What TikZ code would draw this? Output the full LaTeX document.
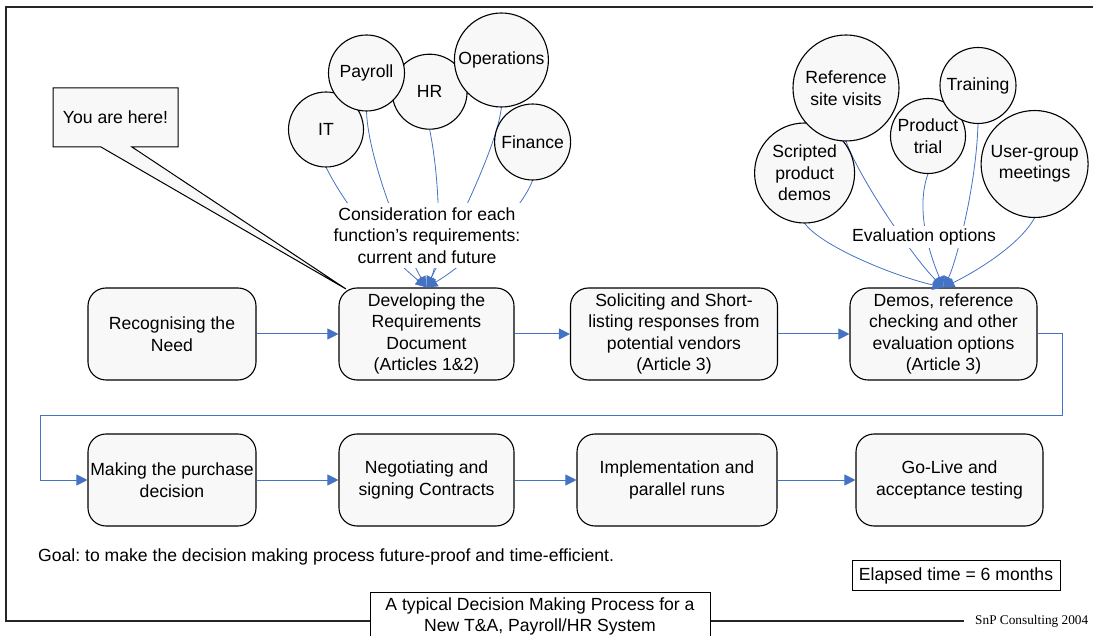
\documentclass[tikz,border=0pt]{standalone}
\usepackage{fontspec}
\setmainfont{Liberation Sans}
\newfontfamily\snpfont{Liberation Serif}
\usetikzlibrary{arrows.meta}
\definecolor{flowblue}{RGB}{68,114,196}
\definecolor{shapefill}{RGB}{248,248,248}
\frenchspacing
\begin{document}
\begin{tikzpicture}[x=1pt,y=-1pt,
  every node/.style={font=\fontsize{17.6}{21.5}\selectfont, inner sep=0pt, align=center},
  stepbox/.style={draw=black, line width=1.1pt, fill=shapefill, rounded corners=18pt, minimum height=92pt},
  bubble/.style={draw=black, line width=1.1pt, fill=shapefill, circle},
  flow/.style={draw=flowblue, line width=1pt, -{Triangle[length=11pt,width=11pt]}},
  feed/.style={draw=flowblue, line width=0.8pt, -{Triangle[length=11pt,width=10pt]}},
  frameline/.style={draw=black!85, line width=1.4pt},
  plainbox/.style={draw=black, line width=0.9pt, fill=white}
]
\useasboundingbox (0,0) rectangle (1093,636);
\clip (0,0) rectangle (1093,636);

% frame
\draw[frameline] (1093,7) -- (6,7) -- (6,621) -- (370,621);
\draw[frameline] (710,621) -- (964,621);

% process boxes
\node[stepbox, minimum width=168pt] (b1) at (172,334) {Recognising the\\Need};
\node[stepbox, minimum width=175pt] (b2) at (426.5,334) {Developing the\\Requirements\\Document\\(Articles 1\&2)};
\node[stepbox, minimum width=207pt] (b3) at (674,334) {Soliciting and Short-\\listing responses from\\potential vendors\\(Article 3)};
\node[stepbox, minimum width=187pt] (b4) at (943.5,334) {Demos, reference\\checking and other\\evaluation options\\(Article 3)};
\node[stepbox, minimum width=168pt] (b5) at (172,480) {Making the purchase\\decision};
\node[stepbox, minimum width=175pt] (b6) at (426.5,480) {Negotiating and\\signing Contracts};
\node[stepbox, minimum width=200pt] (b7) at (677,480) {Implementation and\\parallel runs};
\node[stepbox, minimum width=187pt] (b8) at (949.5,480) {Go-Live and\\acceptance testing};

% flow arrows
\draw[flow] (b1.east) -- (b2.west);
\draw[flow] (b2.east) -- (b3.west);
\draw[flow] (b3.east) -- (b4.west);
\draw[flow] (b4.east) -| (1062,415) -| (40,480) -- (b5.west);
\draw[flow] (b5.east) -- (b6.west);
\draw[flow] (b6.east) -- (b7.west);
\draw[flow] (b7.east) -- (b8.west);

% circle centres
\coordinate (cIT) at (326,129.5);
\coordinate (cPay) at (366.5,73);
\coordinate (cHR) at (429.6,91.7);
\coordinate (cOps) at (501.4,60);
\coordinate (cFin) at (532.6,142);
\coordinate (cScr) at (804.6,173);
\coordinate (cRef) at (846,88);
\coordinate (cTri) at (928,136);
\coordinate (cTrn) at (978,85.5);
\coordinate (cUsr) at (1034.6,164);

% invisible helpers giving the circle bottoms
\node[circle, minimum size=75pt] (it0) at (cIT) {};
\node[circle, minimum size=76pt] (pay0) at (cPay) {};
\node[circle, minimum size=75pt] (hr0) at (cHR) {};
\node[circle, minimum size=94pt] (ops0) at (cOps) {};
\node[circle, minimum size=76pt] (fin0) at (cFin) {};
\node[circle, minimum size=100pt] (scr0) at (cScr) {};
\node[circle, minimum size=106pt] (ref0) at (cRef) {};
\node[circle, minimum size=75pt] (tri0) at (cTri) {};
\node[circle, minimum size=76pt] (trn0) at (cTrn) {};
\node[circle, minimum size=107pt] (usr0) at (cUsr) {};

% feeding connectors
\draw[feed] (it0.south) .. controls (351,217) and (391.5,258) .. (b2.north);
\draw[feed] (pay0.south) .. controls (368,160) and (405,250) .. (b2.north);
\draw[feed] (hr0.south) .. controls (440,180) and (442,255) .. (b2.north);
\draw[feed] (ops0.south) .. controls (497,150) and (445,250) .. (b2.north);
\draw[feed] (fin0.south) .. controls (522,210) and (470,262) .. (b2.north);

\draw[feed] (scr0.south) .. controls (820,245) and (890,275) .. (b4.north);
\draw[feed] (ref0.south) .. controls (860,180) and (915,260) .. (b4.north);
\draw[feed] (tri0.south) .. controls (915,210) and (930,255) .. (b4.north);
\draw[feed] (trn0.south) .. controls (976,190) and (955,265) .. (b4.north);
\draw[feed] (usr0.south) .. controls (1020,245) and (975,272) .. (b4.north);

% circles
\node[bubble, minimum size=75pt] (it) at (cIT) {IT};
\node[bubble, minimum size=75pt] (hr) at (cHR) {HR};
\node[bubble, minimum size=76pt] (pay) at (cPay) {Payroll};
\node[bubble, minimum size=94pt] (ops) at (cOps) {Operations};
\node[bubble, minimum size=76pt] (fin) at (cFin) {Finance};

\node[bubble, minimum size=100pt] (scr) at (cScr) {Scripted\\product\\demos};
\node[bubble, minimum size=106pt] (ref) at (cRef) {Reference\\site visits};
\node[bubble, minimum size=75pt] (tri) at (cTri) {Product\\trial};
\node[bubble, minimum size=76pt] (trn) at (cTrn) {Training};
\node[bubble, minimum size=107pt] (usr) at (cUsr) {User-group\\meetings};

% labels over connectors
\node[fill=white, minimum width=190pt, minimum height=65pt] (consid) at (427,235.5) {Consideration for each\\function’s requirements:\\current and future};
\node[fill=white, minimum width=146pt, minimum height=22pt] (evalopt) at (924,237) {Evaluation options};

% callout
\coordinate (tip) at (346,289);
\path[draw=black, line width=1pt, fill=shapefill] (53,88) -- (178,88) -- (178,147) -- (132,147) -- (tip) -- (101,147) -- (53,147) -- cycle;
\node (here) at (115.5,117.5) {You are here!};

% bottom texts
\node[anchor=west] (goal) at (38,557) {Goal: to make the decision making process future-proof and time-efficient.};
\node[plainbox, minimum width=208pt, minimum height=30pt] (elapsed) at (956,575.5) {Elapsed time = 6 months};
\node[plainbox, anchor=north, minimum width=340pt, minimum height=48pt] (title) at (540,592) {A typical Decision Making Process for a\\New T\&A, Payroll/HR System};
\node[anchor=west, font=\snpfont\fontsize{13.3}{15}\selectfont] (snp) at (975,621) {SnP Consulting 2004};
\end{tikzpicture}
\end{document}
